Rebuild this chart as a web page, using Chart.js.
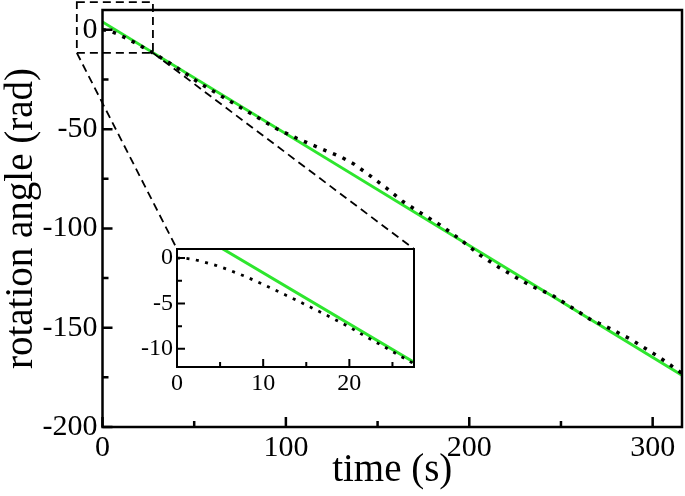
<!DOCTYPE html>
<html>
<head>
<meta charset="utf-8">
<script src="https://cdn.jsdelivr.net/npm/chart.js@4.4.1/dist/chart.umd.min.js"></script>
<style>
  body { margin: 0; background: #fff; }
  #wrap { position: relative; width: 685px; height: 496px; }
  #mainChart { position: absolute; left: 0; top: 0; }
  #insetChart { position: absolute; left: 120px; top: 240px; }
</style>
</head>
<body>
<div id="wrap">
  <canvas id="mainChart" width="685" height="496"></canvas>
  <canvas id="insetChart" width="300" height="160"></canvas>
</div>
<script>
// green: straight fit line
const fitTime = [0, 316];
const fitAngle = [4, -173.9];

// dotted: measured rotation angle
const measTime = [0, 1, 2, 3, 4.5, 6, 8, 10, 12, 14, 16, 18, 20, 22, 24, 26, 28, 30,
  37, 45, 53, 62, 70, 79, 88, 95, 106, 114, 122, 130, 137, 146, 155, 164, 174, 184,
  195, 206, 216, 226, 235, 245, 255, 266, 277, 288, 297, 303, 310, 316];
const measAngle = [0, -0.03, -0.17, -0.4, -0.8, -1.3, -2.05, -2.9, -3.8, -4.7, -5.65, -6.6, -7.6, -8.7, -9.75, -10.85, -11.9, -13.0,
  -16.9, -21.8, -26.9, -31.8, -36.2, -41.1, -46.0, -49.8, -54.6, -57.8, -60.9, -64.0, -67.5, -73.5, -79.8, -86.6, -92.5, -98.2,
  -105.5, -113.5, -119.5, -125.0, -129.5, -133.5, -139.3, -145.8, -150.5, -155.8, -161.0, -164.5, -169.0, -173.0];

const mainXTicks = [0, 100, 200, 300];
const mainXMinor = [50, 150, 250];
const mainYTicks = [-200, -150, -100, -50, 0];
const mainYMinor = [-175, -125, -75, -25];

const insetXTicks = [0, 10, 20];
const insetXMinor = [5, 15, 25];
const insetYTicks = [-10, -5, 0];
const insetYMinor = [-7.5, -2.5];

// zoomed window marked on the main plot
const zoomBoxX = [-14, 27.5];
const zoomBoxY = [-11.6, 14];

const serif = "'Liberation Serif', 'Times New Roman', serif";
const green = '#2ee62e';

const toXY = (xs, ys) => xs.map((x, i) => ({x: x, y: ys[i]}));

// frame + inward ticks like xmgrace
function frameTicks(xMaj, xMin, yMaj, yMin, majLen, minLen, width) {
  return {
    id: 'frameTicks',
    beforeDatasetsDraw(chart) {
      const {ctx, chartArea: a} = chart;
      ctx.save();
      ctx.fillStyle = '#fff';
      ctx.fillRect(a.left, a.top, a.right - a.left, a.bottom - a.top);
      ctx.restore();
    },
    afterDatasetsDraw(chart) {
      const {ctx, chartArea: a, scales: {x, y}} = chart;
      ctx.save();
      ctx.strokeStyle = '#000';
      ctx.lineWidth = width;
      ctx.beginPath();
      xMaj.forEach(v => { const p = x.getPixelForValue(v); ctx.moveTo(p, a.bottom); ctx.lineTo(p, a.bottom - majLen); });
      xMin.forEach(v => { const p = x.getPixelForValue(v); ctx.moveTo(p, a.bottom); ctx.lineTo(p, a.bottom - minLen); });
      yMaj.forEach(v => { const p = y.getPixelForValue(v); ctx.moveTo(a.left, p); ctx.lineTo(a.left + majLen, p); });
      yMin.forEach(v => { const p = y.getPixelForValue(v); ctx.moveTo(a.left, p); ctx.lineTo(a.left + minLen, p); });
      ctx.stroke();
      ctx.strokeRect(a.left, a.top, a.right - a.left, a.bottom - a.top);
      ctx.restore();
    }
  };
}

function datasets(w, dash) {
  return [
    {
      data: toXY(measTime, measAngle),
      borderColor: '#000',
      borderWidth: w,
      borderDash: dash,
      borderCapStyle: 'butt',
      pointRadius: 0,
      tension: 0
    },
    {
      data: toXY(fitTime, fitAngle),
      borderColor: green,
      borderWidth: 3,
      pointRadius: 0,
      tension: 0
    }
  ];
}

// fixed axis sizes, no label overhang padding
const fixX = h => s => { s.height = h; s.paddingLeft = 0; s.paddingRight = 0; };
const fixY = w => s => { s.width = w; s.paddingTop = 0; s.paddingBottom = 0; };

function scaleOpts(min, max, ticks, size, fit, pad, title) {
  return {
    type: 'linear',
    min: min,
    max: max,
    afterBuildTicks: s => { s.ticks = ticks.map(v => ({value: v})); },
    afterFit: fit,
    grid: {display: false, drawTicks: false},
    border: {display: false},
    ticks: {
      color: '#000',
      padding: pad,
      maxRotation: 0,
      autoSkip: false,
      font: {family: serif, size: size},
      callback: v => String(v)
    },
    title: title
  };
}

const insetCanvas = document.getElementById('insetChart');
const insetChart = new Chart(insetCanvas, {
  type: 'line',
  data: {datasets: datasets(2.8, [3, 6.5])},
  options: {
    responsive: false,
    animation: false,
    devicePixelRatio: 1,
    layout: {padding: {top: 9, right: 6, left: 0, bottom: 0}},
    plugins: {legend: {display: false}, tooltip: {enabled: false}},
    scales: {
      x: scaleOpts(0, 27.5, insetXTicks, 24, fixX(33), 2, {display: false}),
      y: scaleOpts(-12, 1, insetYTicks, 24, fixY(57), 4, {display: false})
    }
  },
  plugins: [frameTicks(insetXTicks, insetXMinor, insetYTicks, insetYMinor, 8, 5, 2)]
});

const zoomMarks = {
  id: 'zoomMarks',
  afterDraw(chart) {
    const {ctx, scales: {x, y}} = chart;
    const l = x.getPixelForValue(zoomBoxX[0]), r = x.getPixelForValue(zoomBoxX[1]);
    const t = y.getPixelForValue(zoomBoxY[1]), b = y.getPixelForValue(zoomBoxY[0]);
    const ia = insetChart.chartArea;
    const ox = insetCanvas.offsetLeft, oy = insetCanvas.offsetTop;
    ctx.save();
    ctx.strokeStyle = '#000';
    ctx.lineWidth = 1.8;
    ctx.setLineDash([8, 5]);
    ctx.strokeRect(l, t, r - l, b - t);
    ctx.beginPath();
    ctx.moveTo(l, b); ctx.lineTo(ox + ia.left, oy + ia.top);
    ctx.moveTo(r, b); ctx.lineTo(ox + ia.right, oy + ia.top);
    ctx.stroke();
    ctx.restore();
  }
};

const mainChart = new Chart(document.getElementById('mainChart'), {
  type: 'line',
  data: {datasets: datasets(3.5, [3.5, 7])},
  options: {
    responsive: false,
    animation: false,
    devicePixelRatio: 1,
    layout: {padding: {top: 10, right: 3, left: 0, bottom: 0}},
    plugins: {legend: {display: false}, tooltip: {enabled: false}},
    scales: {
      x: scaleOpts(0, 316, mainXTicks, 30, fixX(69), 3, {
        display: true, text: 'time (s)', color: '#000',
        font: {family: serif, size: 39, lineHeight: 1}, padding: {top: 0, bottom: 6}
      }),
      y: scaleOpts(-200, 10, mainYTicks, 30, fixY(102.5), 5, {
        display: true, text: 'rotation angle (rad)', color: '#000',
        font: {family: serif, size: 39, lineHeight: 1}, padding: {top: 2, bottom: 0}
      })
    }
  },
  plugins: [frameTicks(mainXTicks, mainXMinor, mainYTicks, mainYMinor, 10, 6, 2.5), zoomMarks]
});
</script>
</body>
</html>
